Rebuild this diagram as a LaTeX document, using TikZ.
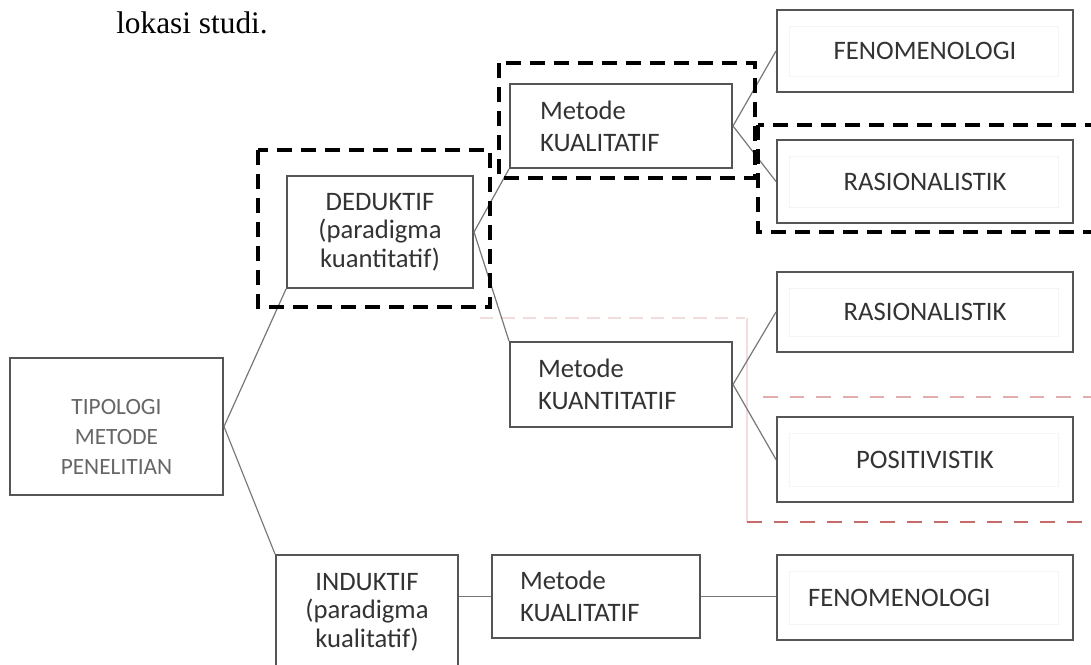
\documentclass[tikz,border=0pt]{standalone}
\usepackage{fontspec}
\setmainfont{Carlito}
\newfontfamily\serifx{Liberation Serif}
\definecolor{boxline}{HTML}{555555}
\definecolor{txt}{HTML}{333333}
\definecolor{tiptxt}{HTML}{666666}
\definecolor{connc}{HTML}{777777}
\definecolor{reddash}{HTML}{C86A6A}
\definecolor{pinkfaint}{HTML}{F4DCDC}
\begin{document}
\begin{tikzpicture}[x=0.75pt,y=-0.75pt,
  box/.style={draw=boxline, line width=1.5pt, inner sep=0pt, text=txt,
    font=\fontsize{20}{24}\selectfont},
  cbox/.style={box, align=center},
  lbox/.style={box, align=left},
  rbox/.style={cbox, minimum width=222pt},
  conn/.style={draw=connc, line width=0.9pt},
  hl/.style={draw=black, line width=3pt, dash pattern=on 11.25pt off 6.75pt},
  redd/.style={draw=reddash, line width=1.4pt, dash pattern=on 11pt off 9pt},
  faintbox/.style={draw=gray!9, line width=0.6pt}
]
\useasboundingbox (0,0) rectangle (1091,664);

% heading text
\node[anchor=base west, inner sep=0pt, font=\serifx\fontsize{23.5}{28}\selectfont] (head) at (116,33) {lokasi studi.};

% faint artefacts
\draw[draw=pinkfaint, line width=0.8pt, dash pattern=on 10pt off 6pt] (480,318) -- (745,318);
\draw[draw=pinkfaint, line width=0.8pt] (747,318) -- (747,522);
\draw[redd, draw=reddash!55] (763,397) -- (1091,397);
\draw[redd] (747,522) -- (1091,522);

% boxes
\node[box, minimum width=159.75pt, minimum height=102.75pt] (tip) at (116.5,426.5) {};
\node[align=center, inner sep=0pt, text=tiptxt, font=\fontsize{17.5}{22.5}\selectfont] (tiptext) at (116.5,437) {TIPOLOGI\\METODE\\PENELITIAN};

\node[cbox, minimum width=139.5pt, minimum height=84pt, font=\fontsize{20}{21.5}\selectfont] (ded) at (380,232) {DEDUKTIF\\(paradigma\\kuantitatif)};
\node[cbox, minimum width=136.5pt, minimum height=85.5pt, font=\fontsize{20}{21.5}\selectfont] (ind) at (367,612) {INDUKTIF\\(paradigma\\kualitatif)};

\node[lbox, text width=121.5pt, inner xsep=22.5pt, minimum height=63pt] (mk1) at (621,126) {Metode\\KUALITATIF};
\node[lbox, text width=124.5pt, inner xsep=21pt, minimum height=63.75pt] (mkn) at (621,384.5) {Metode\\KUANTITATIF};
\node[lbox, text width=114pt, inner xsep=21pt, minimum height=62.25pt] (mk2) at (596,596.5) {Metode\\KUALITATIF};

\node[rbox, minimum height=61.5pt] (fen1) at (925,51) {FENOMENOLOGI};
\node[rbox, minimum height=62.25pt] (ras1) at (925,181.5) {RASIONALISTIK};
\node[rbox, minimum height=60pt] (ras2) at (925,312) {RASIONALISTIK};
\node[rbox, minimum height=63.75pt] (pos) at (925,459.5) {POSITIVISTIK};
\node[lbox, text width=175.5pt, inner xsep=23.25pt, minimum height=63.75pt] (fen2) at (925,597.5) {FENOMENOLOGI};

% faint inner frames
\foreach \b in {fen1,ras1,ras2,pos,fen2}{
  \draw[faintbox] ([shift={(13,17)}]\b.north west) rectangle ([shift={(-16,-17)}]\b.south east);
}

% connectors
\draw[conn] (tip.east) -- (ded.south west);
\draw[conn] (tip.east) -- (ind.north west);
\draw[conn] (ded.east) -- (mk1.south west);
\draw[conn] (ded.east) -- (mkn.north west);
\draw[conn] (mk1.east) -- (fen1.west);
\draw[conn] (mk1.east) -- (ras1.west);
\draw[conn] (mkn.east) -- (ras2.west);
\draw[conn] (mkn.east) -- (pos.west);
\draw[conn] (ind.east |- mk2.west) -- (mk2.west);
\draw[conn] (mk2.east) -- (mk2.east -| fen2.west);

% highlight frames
\draw[hl] (258,150) rectangle (490,307);
\draw[hl] (499,63) rectangle (755,178);
\draw[hl] (758,125) -- (758,232) -- (1100,232);
\draw[hl] (1100,125) -- (758,125);
\end{tikzpicture}
\end{document}
